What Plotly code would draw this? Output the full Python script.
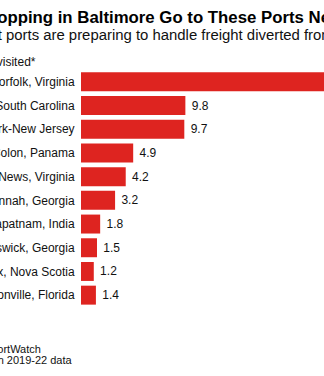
import plotly.graph_objects as go

# Next port of call for ships leaving Baltimore (share of visits, %)
ports = [
    "Norfolk, Virginia",
    "Charleston, South Carolina",
    "New York-New Jersey",
    "Colon, Panama",
    "Newport News, Virginia",
    "Savannah, Georgia",
    "Visakhapatnam, India",
    "Brunswick, Georgia",
    "Halifax, Nova Scotia",
    "Jacksonville, Florida",
]
share = [30.0, 9.8, 9.7, 4.9, 4.2, 3.2, 1.8, 1.5, 1.2, 1.4]

title_text = "Ships Stopping in Baltimore Go to These Ports Next"
subtitle_text = "East Coast ports are preparing to handle freight diverted from Baltimore"
unit_text = "Share of ships leaving Baltimore that next visited*"
source_text = "Source: PortWatch"
note_text = "*Based on 2019-22 data"

W, H = 324, 376
ML, MR, MT, MB = 81, 0, 70, 69
PW, PH = W - ML - MR, H - MT - MB

FONT = "Liberation Sans, Arial, sans-serif"
RED = "#de2420"


def px_x(px):
    return (px - ML) / PW


def px_y(px):
    return (H - MB - px) / PH


fig = go.Figure(
    go.Bar(
        x=share,
        y=ports,
        orientation="h",
        marker=dict(color=RED, line=dict(width=0)),
        text=share,
        texttemplate="\u00a0%{x:.1f}",
        textposition="outside",
        textfont=dict(family=FONT, size=12, color="#111111"),
        cliponaxis=True,
        constraintext="none",
        hoverinfo="skip",
    )
)

annotations = [
    dict(text=f"<b>{title_text}</b>", x=px_x(-72.5), y=px_y(17), xanchor="left",
         yanchor="middle", font=dict(family=FONT, size=16.8, color="#000000")),
    dict(text=subtitle_text, x=px_x(-73), y=px_y(35), xanchor="left",
         yanchor="middle", font=dict(family=FONT, size=14.9, color="#111111")),
    dict(text=unit_text, x=px_x(38), y=px_y(62), xanchor="right",
         yanchor="middle", font=dict(family=FONT, size=12, color="#111111")),
    dict(text=source_text, x=px_x(-53), y=px_y(348.5), xanchor="left",
         yanchor="middle", font=dict(family=FONT, size=11, color="#111111")),
    dict(text=note_text, x=px_x(-49), y=px_y(360), xanchor="left",
         yanchor="middle", font=dict(family=FONT, size=11, color="#111111")),
]
for a in annotations:
    a.update(xref="paper", yref="paper", showarrow=False, align="left")

fig.update_layout(
    width=W,
    height=H,
    margin=dict(l=ML, r=MR, t=MT, b=MB, pad=0),
    paper_bgcolor="white",
    plot_bgcolor="white",
    bargap=0.2,
    showlegend=False,
    annotations=annotations,
    font=dict(family=FONT, color="#111111"),
    xaxis=dict(range=[0, PW / 10.65], visible=False, fixedrange=True,
               automargin=False),
    yaxis=dict(autorange="reversed", showline=False, showgrid=False,
               zeroline=False, ticks="outside", ticklen=3,
               tickcolor="rgba(0,0,0,0)",
               tickfont=dict(family=FONT, size=12, color="#111111"),
               automargin=False, fixedrange=True),
)

fig.write_html("out.html", config={"displayModeBar": False})
